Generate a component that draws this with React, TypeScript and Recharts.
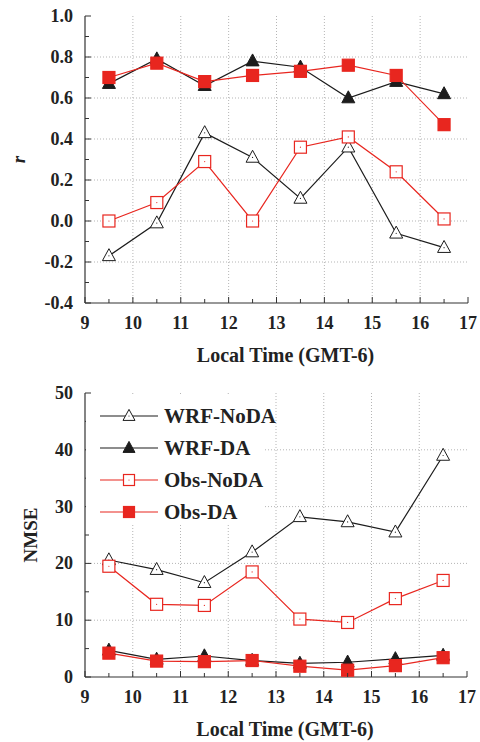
import React from "react";
import { LineChart, Line, XAxis, YAxis, CartesianGrid, Legend } from "recharts";

// local time (GMT-6), hourly mid-points
const hours = [9.5, 10.5, 11.5, 12.5, 13.5, 14.5, 15.5, 16.5];

// correlation r
const rWrfNoDA = [-0.17, -0.01, 0.43, 0.31, 0.11, 0.36, -0.06, -0.13];
const rWrfDA = [0.67, 0.79, 0.66, 0.78, 0.75, 0.6, 0.68, 0.62];
const rObsNoDA = [0.0, 0.09, 0.29, 0.0, 0.36, 0.41, 0.24, 0.01];
const rObsDA = [0.7, 0.77, 0.68, 0.71, 0.73, 0.76, 0.71, 0.47];

// NMSE
const nmseWrfNoDA = [20.6, 18.9, 16.6, 22.0, 28.2, 27.3, 25.5, 39.0];
const nmseWrfDA = [4.7, 3.1, 3.7, 2.9, 2.4, 2.6, 3.2, 3.8];
const nmseObsNoDA = [19.5, 12.8, 12.6, 18.5, 10.2, 9.6, 13.8, 17.0];
const nmseObsDA = [4.2, 2.8, 2.7, 2.9, 1.9, 1.2, 2.0, 3.4];

const xTicks = [9, 9.5, 10, 10.5, 11, 11.5, 12, 12.5, 13, 13.5, 14, 14.5, 15, 15.5, 16, 16.5, 17];
const xGrid = [10, 11, 12, 13, 14, 15, 16];
const rTicks = [-0.4, -0.3, -0.2, -0.1, 0, 0.1, 0.2, 0.3, 0.4, 0.5, 0.6, 0.7, 0.8, 0.9, 1.0];
const rGrid = [-0.2, 0, 0.2, 0.4, 0.6, 0.8];
const nmseTicks = [0, 5, 10, 15, 20, 25, 30, 35, 40, 45, 50];
const nmseGrid = [10, 20, 30, 40];

const seriesNames = ["WRF-NoDA", "WRF-DA", "Obs-NoDA", "Obs-DA"];

const RED = "#e8261f";
const BLACK = "#1c1c1c";
const AXIS = "#333";
const FONT = '"Liberation Serif", "Times New Roman", serif';

const rData = hours.map((h, i) => ({
  t: h,
  "WRF-NoDA": rWrfNoDA[i],
  "WRF-DA": rWrfDA[i],
  "Obs-NoDA": rObsNoDA[i],
  "Obs-DA": rObsDA[i],
}));

const nmseData = hours.map((h, i) => ({
  t: h,
  "WRF-NoDA": nmseWrfNoDA[i],
  "WRF-DA": nmseWrfDA[i],
  "Obs-NoDA": nmseObsNoDA[i],
  "Obs-DA": nmseObsDA[i],
}));

const markerOf = {
  "WRF-NoDA": { shape: "tri", filled: false, color: BLACK },
  "WRF-DA": { shape: "tri", filled: true, color: BLACK },
  "Obs-NoDA": { shape: "sq", filled: false, color: RED },
  "Obs-DA": { shape: "sq", filled: true, color: RED },
};

function Marker({ cx, cy, kind, size = 13 }) {
  const m = markerOf[kind];
  if (m.shape === "tri") {
    const w = size, h = size * 0.92;
    const pts = `${cx},${cy - h * 0.6} ${cx - w / 2},${cy + h * 0.4} ${cx + w / 2},${cy + h * 0.4}`;
    return (
      <g>
        <polygon points={pts} fill={m.filled ? m.color : "#fff"} stroke={m.color} strokeWidth={1} />
        {!m.filled && <circle cx={cx} cy={cy} r={0.6} fill={m.color} />}
      </g>
    );
  }
  const s = size - 1;
  return (
    <g>
      <rect x={cx - s / 2} y={cy - s / 2} width={s} height={s}
        fill={m.filled ? m.color : "#fff"} stroke={m.color} strokeWidth={1.2} />
      {!m.filled && <circle cx={cx} cy={cy} r={0.6} fill={m.color} />}
    </g>
  );
}

const dotFor = (kind) => (p) => {
  if (p.cx == null || p.cy == null) return <g key={`${kind}-${p.index}`} />;
  return (
    <g key={`${kind}-${p.index}`}>
      <Marker cx={p.cx} cy={p.cy} kind={kind} />
    </g>
  );
};

// ticks pointing into the plot, labels on major ticks only
const bottomTick = (p) => {
  const { x, y, payload } = p;
  const v = payload.value;
  const major = Number.isInteger(v);
  return (
    <g>
      <line x1={x} x2={x} y1={y} y2={y - (major ? 6 : 4)} stroke={AXIS} strokeWidth={1} />
      {major && (
        <text x={x} y={y + 26} textAnchor="middle" fontFamily={FONT} fontWeight="bold" fontSize={18} fill="#222">
          {v}
        </text>
      )}
    </g>
  );
};

const topTick = (p) => {
  const { x, y, payload } = p;
  const major = Number.isInteger(payload.value);
  return <line x1={x} x2={x} y1={y} y2={y + (major ? 6 : 4)} stroke={AXIS} strokeWidth={1} />;
};

const leftTick = (isMajor, fmt) => (p) => {
  const { x, y, payload } = p;
  const v = payload.value;
  const major = isMajor(v);
  return (
    <g>
      <line x1={x} x2={x + (major ? 6 : 4)} y1={y} y2={y} stroke={AXIS} strokeWidth={1} />
      {major && (
        <text x={x - 12} y={y + 6} textAnchor="end" fontFamily={FONT} fontWeight="bold" fontSize={18} fill="#222">
          {fmt(v)}
        </text>
      )}
    </g>
  );
};

const rightTick = (isMajor) => (p) => {
  const { x, y, payload } = p;
  const major = isMajor(payload.value);
  return <line x1={x} x2={x - (major ? 6 : 4)} y1={y} y2={y} stroke={AXIS} strokeWidth={1} />;
};

const rMajor = (v) => Math.round(v * 10) % 2 === 0;
const nmseMajor = (v) => v % 10 === 0;

const xLabel = (props) => {
  const vb = props.viewBox;
  return (
    <text x={vb.x + vb.width / 2 + 9} y={vb.y + 59} textAnchor="middle"
      fontFamily={FONT} fontWeight="bold" fontSize={20} fill="#222">
      Local Time (GMT-6)
    </text>
  );
};

const yLabel = (text, italic, dx) => (props) => {
  const vb = props.viewBox;
  const cx = vb.x + dx;
  const cy = vb.y + vb.height / 2;
  return (
    <text x={cx} y={cy} transform={`rotate(-90 ${cx} ${cy})`} textAnchor="middle"
      fontFamily={FONT} fontWeight="bold" fontStyle={italic ? "italic" : "normal"} fontSize={19} fill="#222">
      {text}
    </text>
  );
};

const renderLegend = (props) => {
  const items = [...(props.payload || [])].sort(
    (a, b) => seriesNames.indexOf(a.value) - seriesNames.indexOf(b.value)
  );
  return (
    <div style={{ paddingTop: 6 }}>
      {items.map((it) => (
        <div key={it.value} style={{ display: "flex", alignItems: "center", height: 32, whiteSpace: "nowrap" }}>
          <svg width={60} height={32} style={{ marginLeft: 14, flexShrink: 0 }}>
            <line x1={0} x2={58} y1={16} y2={16} stroke={markerOf[it.value].color} strokeWidth={1.2} />
            <Marker cx={29} cy={16} kind={it.value} size={12} />
          </svg>
          <span style={{ fontFamily: FONT, fontWeight: "bold", fontSize: 21, color: "#222", marginLeft: 4 }}>
            {it.value}
          </span>
        </div>
      ))}
    </div>
  );
};

function Panel({ data, yDomain, yTicks, yGrid, isMajor, fmt, yTitle, italic, height, xAxisH, right, legend }) {
  return (
    <LineChart width={480} height={height} data={data} margin={{ top: 16, right, left: 0, bottom: 0 }}>
      <CartesianGrid xAxisId="x" yAxisId="y" verticalValues={xGrid} horizontalValues={yGrid}
        stroke="#b5b5b5" strokeDasharray="1 2" />
      <XAxis xAxisId="x" dataKey="t" type="number" domain={[9, 17]} ticks={xTicks} interval={0}
        height={xAxisH} tickSize={0} tickMargin={0} tickLine={false} tick={bottomTick}
        axisLine={{ stroke: AXIS, strokeWidth: 1.2 }} label={xLabel} />
      <XAxis xAxisId="top" orientation="top" type="number" domain={[9, 17]} ticks={xTicks} interval={0}
        height={0} tickSize={0} tickMargin={0} tickLine={false} tick={topTick}
        axisLine={{ stroke: AXIS, strokeWidth: 1.2 }} />
      <YAxis yAxisId="y" type="number" domain={yDomain} ticks={yTicks} interval={0} width={85}
        tickSize={0} tickMargin={0} tickLine={false} tick={leftTick(isMajor, fmt)}
        axisLine={{ stroke: AXIS, strokeWidth: 1.2 }} label={yLabel(yTitle, italic, italic ? 25 : 37)} />
      <YAxis yAxisId="yr" orientation="right" type="number" domain={yDomain} ticks={yTicks} interval={0} width={0}
        tickSize={0} tickMargin={0} tickLine={false} tick={rightTick(isMajor)}
        axisLine={{ stroke: AXIS, strokeWidth: 1.2 }} />
      {seriesNames.map((name) => (
        <Line key={name} xAxisId="x" yAxisId="y" dataKey={name} name={name} type="linear"
          stroke={markerOf[name].color} strokeWidth={1.2} dot={dotFor(name)} activeDot={false}
          isAnimationActive={false} />
      ))}
      {legend && (
        <Legend layout="vertical" verticalAlign="middle" align="center" content={renderLegend}
          wrapperStyle={{ position: "absolute", left: 86, top: 17, width: 178, height: 130, background: "#fff" }} />
      )}
    </LineChart>
  );
}

export default function App() {
  return (
    <div style={{ position: "absolute", left: 0, top: 0, width: 480, height: 742, background: "#fff" }}>
      <div style={{ position: "absolute", left: 0, top: 0 }}>
        <Panel data={rData} yDomain={[-0.4, 1.0]} yTicks={rTicks} yGrid={rGrid} isMajor={rMajor}
          fmt={(v) => v.toFixed(1)} yTitle="r" italic height={370} xAxisH={67} right={12} legend={false} />
      </div>
      <div style={{ position: "absolute", left: 0, top: 377 }}>
        <Panel data={nmseData} yDomain={[0, 50]} yTicks={nmseTicks} yGrid={nmseGrid} isMajor={nmseMajor}
          fmt={(v) => String(v)} yTitle="NMSE" italic={false} height={365} xAxisH={65} right={13} legend />
      </div>
    </div>
  );
}
